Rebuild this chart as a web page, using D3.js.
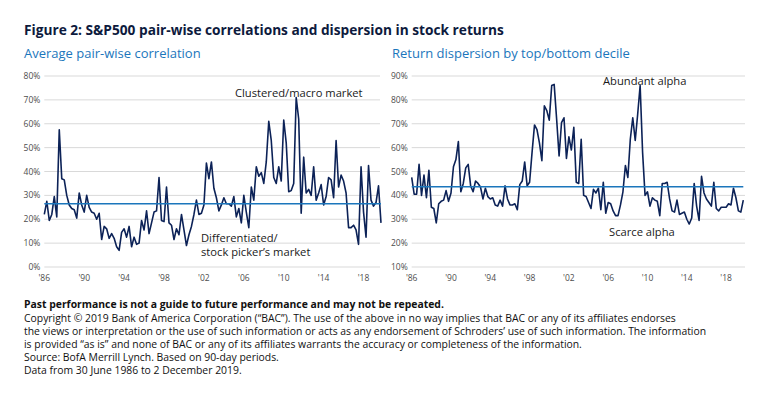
<!DOCTYPE html>
<html>
<head>
<meta charset="utf-8">
<script src="https://cdn.jsdelivr.net/npm/d3@7"></script>
<style>
  body { margin: 0; background: #fff; }
  svg { display: block; font-family: "Open Sans", "Noto Sans", sans-serif; }
</style>
</head>
<body>
<svg id="chart" width="770" height="399"></svg>
<script>
"use strict";

// data - 90-day periods, 30 Jun 1986 to 2 Dec 2019
var correlation = [
  22, 27.5, 19.5, 22, 29.5, 21, 57.5, 37, 36.5, 30,
  26, 24.5, 24, 20.5, 31, 26, 23, 30, 25, 23,
  22.5, 20, 22.5, 11.5, 17, 16, 12, 14, 12, 8.5,
  7, 14.5, 16, 12.5, 17, 8.5, 12.5, 9.5, 10, 19.5,
  15.5, 23.5, 14, 18.5, 23, 23.5, 37.5, 19.5, 19, 33.5,
  18.5, 17.5, 11.5, 16, 13.5, 22, 15.5, 9, 13.5, 17,
  22, 28, 22, 22.5, 26, 43.5, 37, 44, 33, 29,
  23.5, 26, 29, 26.5, 26.5, 25.5, 29.5, 21, 24.5, 18.5,
  30, 23, 16.5, 33.5, 28, 42, 38, 39.5, 35, 44,
  61, 53, 37.5, 35, 42, 36, 61.5, 52, 31.5, 32,
  35, 71, 62, 22.5, 46, 31, 32.5, 30, 42, 28,
  31, 34.5, 26, 29.5, 37.5, 36.5, 29, 53, 33.5, 38.5,
  36, 31, 16.5, 16.5, 17.5, 15.5, 9.5, 42, 23, 12.5,
  42.5, 28, 25.5, 27, 34, 18.5
];

var dispersion = [
  47.5, 40.5, 40.5, 53, 40, 48.5, 39, 50.5, 35, 34.5,
  28.5, 36.5, 37.5, 38, 42, 37.5, 41, 52, 55, 62.5,
  41.5, 45, 51.5, 53, 44, 41.5, 46, 45, 43.5, 38.5,
  43, 39.5, 38.5, 39, 36, 35.5, 38, 35.5, 44, 38.5,
  36, 36, 36.5, 34, 44.5, 46, 54, 44, 45.5, 58,
  69.5, 67.5, 62, 54.5, 77.5, 75.5, 71.5, 86, 86.5, 72,
  56.5, 70.5, 72.5, 55.5, 64.5, 59, 68.5, 45.5, 45, 63.5,
  40, 39.5, 37, 34.5, 42.5, 41, 43, 34, 45.5, 32.5,
  37, 36.5, 33.5, 31.5, 31.5, 36, 41.5, 52.5, 47.5, 63.5,
  72.5, 63, 74, 86, 58, 40, 41.5, 35.5, 39, 38,
  37.5, 31.5, 45, 45, 45.5, 38.5, 33.5, 33, 38, 32,
  32.5, 33, 30, 28, 30.5, 45, 35.5, 29.5, 48, 41,
  38.5, 37, 35.5, 45.5, 34.5, 33.5, 35, 35, 35, 36.5,
  36, 43, 39, 33.5, 33, 38
];

var correlationAvg = 26.5,
    dispersionAvg = 43.6;

var yearLabels = ["'86", "'90", "'94", "'98", "'02", "'06", "'10", "'14", "'18"],
    labelStep = 16;

var corrTicks = [0, 10, 20, 30, 40, 50, 60, 70, 80],
    dispTicks = [10, 20, 30, 40, 50, 60, 70, 80, 90];

var footer = [
  "Copyright \u00a9 2019 Bank of America Corporation (\u201cBAC\u201d). The use of the above in no way implies that BAC or any of its affiliates endorses",
  "the views or interpretation or the use of such information or acts as any endorsement of Schroders\u2019 use of such information. The information",
  "is provided \u201cas is\u201d and none of BAC or any of its affiliates warrants the accuracy or completeness of the information.",
  "Source: BofA Merrill Lynch. Based on 90-day periods.",
  "Data from 30 June 1986 to 2 December 2019."
];


var navy = "#0c2257",
    blue = "#1b76bc",
    grid = "#d9d9d9",
    tickGrey = "#4d4d4d";

var svg = d3.select("#chart");


    // titles

svg.append("text")
    .attr("x", 24).attr("y", 35)
    .attr("font-size", 13.7).attr("font-weight", 700)
    .attr("fill", "#0d1a3d")
    .text("Figure 2: S&P500 pair-wise correlations and dispersion in stock returns");

svg.append("text")
    .attr("x", 24).attr("y", 58)
    .attr("font-size", 13).attr("fill", blue)
    .text("Average pair-wise correlation");

svg.append("text")
    .attr("x", 392).attr("y", 58)
    .attr("font-size", 13).attr("fill", blue)
    .text("Return dispersion by top/bottom decile");


    // one panel

function panel(p) {

    var g = svg.append("g");

    var x = d3.scaleLinear()
        .domain([0, p.values.length - 1])
        .range([p.left, p.right]);

    var y = d3.scaleLinear()
        .domain(p.domain)
        .range([267, 76]);

    g.selectAll(".grid")
        .data(p.ticks)
        .enter().append("line")
            .attr("x1", p.left).attr("x2", p.gridRight)
            .attr("y1", d => y(d)).attr("y2", d => y(d))
            .attr("stroke", grid).attr("stroke-width", 1);

    g.selectAll(".ytick")
        .data(p.ticks)
        .enter().append("text")
            .attr("x", p.left - 4)
            .attr("y", d => y(d) + 3)
            .attr("text-anchor", "end")
            .attr("font-size", 8.5).attr("fill", tickGrey)
            .text(d => d + "%");

    g.selectAll(".xtick")
        .data(yearLabels)
        .enter().append("text")
            .attr("x", (d, i) => x(i * labelStep))
            .attr("y", 281)
            .attr("text-anchor", "middle")
            .attr("font-size", 8.5).attr("fill", tickGrey)
            .text(d => d);

    g.append("path")
        .datum(p.values)
        .attr("fill", "none")
        .attr("stroke", navy)
        .attr("stroke-width", 1.6)
        .attr("stroke-linejoin", "round")
        .attr("d", d3.line().x((d, i) => x(i)).y(d => y(d)));

    g.append("line")
        .attr("x1", p.left).attr("x2", p.right)
        .attr("y1", y(p.avg)).attr("y2", y(p.avg))
        .attr("stroke", blue).attr("stroke-width", 1.6);

    p.notes.forEach(function (n) {
        g.append("text")
            .attr("x", n.x).attr("y", n.y)
            .attr("font-size", 11.2).attr("fill", "#1a1a1a")
            .text(n.text);
    });
}


panel({
    values: correlation,
    avg: correlationAvg,
    domain: [0, 80],
    ticks: corrTicks,
    left: 44.3, right: 381, gridRight: 380,
    notes: [
        { x: 235, y: 97, text: "Clustered/macro market" },
        { x: 201, y: 242, text: "Differentiated/" },
        { x: 201, y: 256, text: "stock picker\u2019s market" }
    ]
});

panel({
    values: dispersion,
    avg: dispersionAvg,
    domain: [10, 90],
    ticks: dispTicks,
    left: 411.7, right: 743.3, gridRight: 745,
    notes: [
        { x: 603, y: 85, text: "Abundant alpha" },
        { x: 609, y: 236, text: "Scarce alpha" }
    ]
});


    // footer

svg.append("text")
    .attr("x", 24).attr("y", 308)
    .attr("font-size", 10.4).attr("font-weight", 700)
    .attr("fill", "#111")
    .text("Past performance is not a guide to future performance and may not be repeated.");

svg.selectAll(".foot")
    .data(footer)
    .enter().append("text")
        .attr("x", 24)
        .attr("y", (d, i) => 321.5 + i * 13)
        .attr("font-size", 10.4).attr("fill", "#111")
        .text(d => d);

</script>
</body>
</html>
